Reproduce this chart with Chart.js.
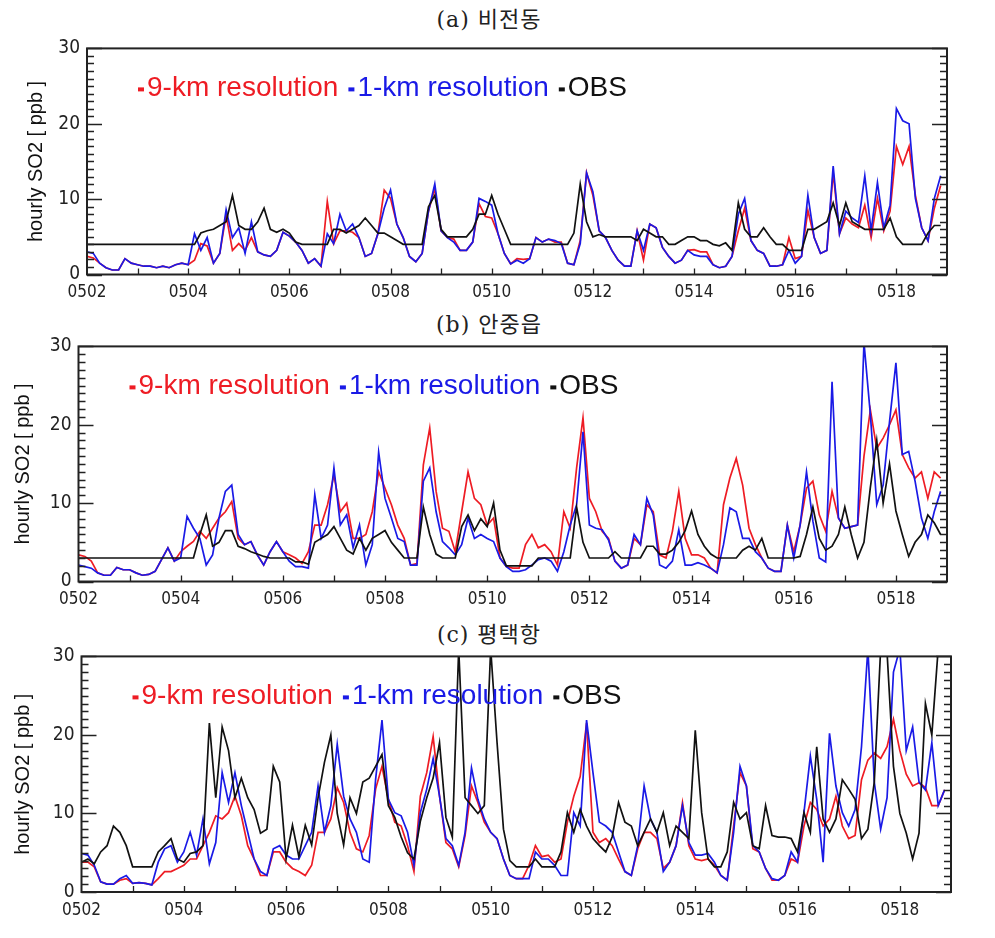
<!DOCTYPE html>
<html>
<head>
<meta charset="utf-8">
<script src="https://cdn.jsdelivr.net/npm/chart.js@4.4.1/dist/chart.umd.min.js"></script>
<style>
  body { margin: 0; background: #fff; }
  #page { position: relative; width: 995px; height: 938px; overflow: hidden; background: #fff; }
  .ttl { position: absolute; left: 0; width: 978px; text-align: center; line-height: 26px;
         font-family: "DejaVu Serif", "Noto Sans CJK KR", serif; font-size: 22px; letter-spacing: 1px; color: #222; }
  canvas { position: absolute; left: 0; }
</style>
</head>
<body>
<div id="page">
  <div class="ttl" style="top:7px">(a) 비전동</div>
  <div class="ttl" style="top:312px">(b) 안중읍</div>
  <div class="ttl" style="top:622px">(c) 평택항</div>
  <canvas id="chartA" width="995" height="290" style="top:30px"></canvas>
  <canvas id="chartB" width="995" height="290" style="top:328px"></canvas>
  <canvas id="chartC" width="995" height="290" style="top:638px"></canvas>
</div>
<script>
// time axis: days since 05-02 00h, one value every 3 hours
const STEP_HOURS = 3;
const DAYS = Array.from({ length: 136 }, (_, i) => i * STEP_HOURS / 24);
const DAY_TICKS = [0, 2, 4, 6, 8, 10, 12, 14, 16];
const TICK_LABELS = ['0502', '0504', '0506', '0508', '0510', '0512', '0514', '0516', '0518'];
const SERIES_NAMES = ['9-km resolution', '1-km resolution', 'OBS'];

// (a) 비전동
const km9A = [
  2.4, 2.2, 1.5, 0.9, 0.6, 0.6, 2.1, 1.5, 1.3, 1.1, 1.1, 0.9, 1.1, 0.9, 1.3, 1.5, 1.3,
  1.9, 4.1, 3.8, 1.5, 2.8, 7.9, 3.2, 4.1, 3.2, 4.9, 3.0, 2.6, 2.4, 3.2, 5.6, 5.1, 4.3,
  3.2, 1.5, 2.1, 1.1, 9.7, 4.1, 5.8, 5.8, 5.6, 4.9, 2.4, 2.8, 5.4, 11.2, 10.1, 6.7, 4.9,
  2.4, 1.7, 2.8, 8.4, 11.4, 5.8, 4.9, 4.7, 3.2, 3.2, 4.3, 9.4, 7.7, 7.5, 5.4, 2.8, 1.4,
  2.1, 2.0, 2.1, 4.9, 4.3, 4.7, 4.3, 4.3, 1.5, 1.3, 4.5, 13.5, 10.5, 5.8, 4.9, 3.2, 1.9,
  1.1, 1.1, 5.8, 1.9, 6.7, 6.2, 3.6, 2.4, 1.5, 1.9, 3.2, 3.3, 3.0, 3.0, 1.3, 0.9, 1.1,
  2.4, 5.8, 8.8, 4.5, 3.2, 2.8, 1.1, 1.1, 1.3, 4.9, 2.1, 2.4, 8.5, 4.9, 2.8, 3.2, 13.5,
  5.4, 7.5, 6.7, 6.2, 9.2, 4.9, 10.1, 5.8, 8.4, 17.0, 14.6, 17.0, 10.5, 6.2, 4.5, 8.8, 11.8
];
const km1A = [
  3.0, 2.8, 1.5, 0.9, 0.6, 0.6, 2.1, 1.5, 1.3, 1.1, 1.1, 0.9, 1.1, 0.9, 1.3, 1.5, 1.3,
  5.4, 3.2, 4.9, 1.5, 2.8, 8.6, 4.9, 6.2, 2.8, 7.0, 3.0, 2.6, 2.4, 3.2, 5.6, 5.1, 4.3,
  3.2, 1.5, 2.1, 1.1, 5.4, 4.1, 8.0, 5.8, 6.7, 4.9, 2.4, 2.8, 5.4, 8.8, 11.2, 6.7, 4.9,
  2.4, 1.7, 2.8, 8.4, 12.0, 5.8, 4.9, 4.3, 3.2, 3.2, 4.3, 10.1, 9.7, 9.2, 5.4, 2.8, 1.4,
  1.9, 1.5, 2.1, 4.9, 4.3, 4.7, 4.5, 4.1, 1.5, 1.3, 4.1, 13.5, 11.0, 5.8, 4.9, 3.2, 1.9,
  1.1, 1.1, 5.8, 3.2, 6.7, 6.2, 3.6, 2.4, 1.5, 1.9, 3.2, 2.6, 2.4, 2.4, 1.3, 0.9, 1.1,
  2.4, 8.0, 10.1, 4.5, 3.2, 2.8, 1.1, 1.1, 1.3, 3.2, 1.5, 2.4, 10.5, 4.9, 2.8, 3.2, 14.4,
  5.4, 8.4, 7.5, 6.9, 13.1, 5.8, 12.2, 6.2, 9.2, 22.0, 20.4, 20.0, 10.1, 6.2, 4.5, 10.1, 13.1
];
const obsA = [
  4, 4, 4, 4, 4, 4, 4, 4, 4, 4, 4, 4, 4, 4, 4, 4, 4,
  4, 5.5, 5.8, 6, 6.5, 7, 10.5, 6.5, 6, 6, 7, 8.8, 6, 5.6, 6, 5.5, 4.3,
  4, 4, 4, 4, 4, 6, 6, 5.5, 6, 6.5, 7.5, 6.5, 5.5, 5.5, 5, 4.5, 4,
  4, 4, 4, 9, 10.5, 6, 5, 5, 5, 5, 6, 8, 8, 10.5, 8, 6, 4,
  4, 4, 4, 4, 4, 4, 4, 4, 4, 5.5, 12, 7, 5, 5.3, 5, 5, 5,
  5, 5, 4.5, 6, 5.5, 5, 5, 4, 4, 4.5, 5, 5, 4.5, 4.5, 4, 3.8, 4.2,
  3.2, 9.5, 6, 5, 5, 6.2, 5, 4, 4, 3.2, 3.2, 3.2, 6, 6, 6.5, 7, 9.5,
  6.5, 9.5, 7, 6.5, 6, 6, 6, 6, 7.5, 5, 4, 4, 4, 4, 5.5, 6.5, 6.5
];

// (b) 안중읍
const km9B = [
  3.4, 3.2, 2.6, 1.1, 0.8, 0.8, 1.8, 1.5, 1.5, 1.1, 0.8, 0.9, 1.3, 2.8, 4.3, 2.6, 3.8,
  4.5, 5.1, 6.4, 5.5, 6.8, 8.1, 8.9, 10.2, 5.5, 4.7, 5.1, 3.4, 2.1, 3.8, 5.1, 3.8, 3.4,
  3.0, 2.3, 3.8, 7.2, 7.2, 9.8, 13.6, 8.9, 10.0, 5.5, 5.5, 6.0, 8.9, 14.0, 11.9, 9.8, 7.2,
  5.5, 2.1, 2.3, 14.9, 19.6, 11.5, 6.8, 6.4, 3.8, 8.9, 14.0, 10.6, 9.8, 7.2, 8.1, 3.0, 1.9,
  1.7, 1.7, 4.7, 6.0, 4.3, 4.7, 3.8, 2.1, 8.9, 6.8, 14.5, 20.9, 10.6, 8.9, 6.4, 5.5, 2.6,
  1.7, 2.1, 5.5, 4.7, 9.8, 8.9, 3.4, 3.0, 6.4, 11.5, 5.5, 3.4, 3.4, 3.0, 1.7, 1.1, 9.8,
  13.2, 15.7, 12.3, 6.8, 4.7, 3.0, 1.7, 1.3, 1.3, 7.2, 3.8, 7.2, 11.9, 12.8, 8.5, 6.4, 11.5,
  8.1, 6.8, 7.0, 7.2, 16.0, 21.9, 17.0, 18.3, 20.0, 21.9, 16.2, 14.5, 13.2, 14.0, 10.6, 14.0, 13.2
];
const km1B = [
  2.1, 1.9, 1.7, 1.1, 0.8, 0.8, 1.8, 1.5, 1.5, 1.1, 0.8, 0.9, 1.3, 2.8, 4.3, 2.6, 3.0,
  8.3, 6.8, 5.5, 2.1, 3.4, 8.1, 11.5, 12.3, 6.0, 4.7, 5.1, 3.4, 2.1, 3.8, 5.1, 3.8, 2.6,
  1.9, 1.9, 1.7, 11.1, 5.5, 7.2, 14.5, 7.2, 8.5, 4.3, 7.2, 2.1, 4.7, 16.5, 10.6, 8.1, 5.5,
  5.1, 2.1, 2.1, 12.8, 14.5, 8.9, 5.1, 4.3, 3.4, 4.7, 8.1, 5.5, 6.0, 5.5, 5.1, 3.0, 1.9,
  1.3, 1.3, 1.5, 2.1, 2.8, 3.0, 2.6, 1.3, 3.8, 7.2, 9.8, 19.1, 7.2, 6.8, 6.6, 5.3, 2.6,
  1.7, 2.1, 6.0, 4.7, 10.6, 8.5, 2.1, 1.7, 2.6, 6.6, 2.1, 2.1, 2.4, 2.1, 1.7, 1.1, 4.7,
  9.4, 8.9, 5.5, 5.5, 3.8, 3.0, 1.7, 1.3, 1.3, 7.2, 3.0, 7.2, 14.0, 7.7, 3.0, 2.5, 25.5,
  8.1, 6.8, 7.0, 7.2, 30.5, 21.3, 9.8, 12.3, 20.4, 27.9, 16.2, 16.6, 12.8, 8.1, 5.5, 8.9, 11.5
];
const obsB = [
  3, 3, 3, 3, 3, 3, 3, 3, 3, 3, 3, 3, 3, 3, 3, 3, 3,
  3, 3, 6, 8.5, 4.5, 5, 6.5, 6.5, 4.5, 4.2, 3.8, 3.5, 3.2, 3, 3, 3, 3,
  2.5, 2.5, 2.2, 5, 5.5, 6, 7, 5.5, 4, 3.5, 5.5, 4, 5.5, 6, 6.5, 5, 4,
  3, 3, 3, 9.5, 6, 3.5, 3, 3, 3, 7, 8.5, 6.5, 8, 7, 10, 4, 2,
  2, 2, 2, 2, 3, 3, 3, 3, 3, 3, 9.5, 5, 3, 3, 3, 3, 3.8,
  3, 3, 3, 3, 4.5, 4.5, 3.5, 3.5, 4, 5, 6.5, 9, 6, 4.5, 3.5, 3, 3,
  3, 3, 4, 4.5, 4, 5.5, 3, 3, 3, 3, 3, 3.2, 6, 9.5, 5.5, 4, 4.5,
  6, 9.5, 6, 3, 5, 12, 18, 10, 15, 9, 6, 3.2, 5, 6, 8.5, 7.5, 6
];

// (c) 평택항
const km9C = [
  3.8, 3.8, 3.2, 1.3, 1.0, 1.0, 1.5, 1.7, 1.1, 1.2, 1.1, 0.9, 1.7, 2.6, 2.6, 3.0, 3.4,
  4.2, 4.2, 5.9, 7.6, 9.7, 9.3, 10.1, 12.2, 9.7, 5.9, 4.2, 2.1, 2.1, 5.1, 5.1, 3.8, 3.0,
  2.6, 2.1, 3.4, 7.6, 7.6, 9.3, 13.3, 11.4, 7.6, 5.5, 5.1, 7.2, 13.1, 16.0, 11.8, 8.9, 8.4,
  5.9, 2.6, 12.2, 15.2, 19.8, 12.2, 6.3, 5.5, 3.2, 7.2, 13.5, 11.4, 8.9, 7.6, 6.8, 4.2, 2.1,
  1.7, 1.7, 3.4, 5.9, 4.5, 4.7, 3.8, 4.2, 8.9, 12.2, 14.7, 21.5, 7.6, 6.3, 6.8, 5.9, 4.2,
  2.6, 2.1, 5.5, 7.6, 7.6, 6.8, 3.0, 3.8, 5.9, 11.4, 5.9, 4.2, 4.0, 4.2, 3.4, 2.1, 1.5,
  8.4, 15.2, 13.5, 5.5, 5.1, 3.0, 1.5, 1.5, 2.1, 4.2, 3.8, 8.4, 11.4, 10.5, 8.4, 9.3, 12.2,
  8.4, 6.8, 7.2, 14.3, 16.8, 17.7, 17.0, 18.5, 22.0, 18.0, 15.0, 13.5, 13.9, 13.3, 11.0, 11.0, 13.0
];
const km1C = [
  4.9, 4.7, 3.4, 1.3, 1.0, 1.0, 1.7, 2.1, 1.1, 1.2, 1.1, 0.9, 3.8, 5.5, 5.9, 3.8, 5.1,
  7.6, 4.7, 9.3, 3.6, 6.3, 15.2, 11.4, 15.2, 11.0, 7.6, 4.2, 2.6, 2.1, 5.5, 5.9, 4.7, 4.2,
  4.2, 5.9, 7.6, 13.5, 7.6, 11.0, 18.8, 12.2, 9.3, 7.6, 4.2, 3.8, 14.3, 21.9, 11.8, 10.1, 9.7,
  7.6, 3.4, 10.1, 13.1, 17.0, 12.2, 6.8, 5.9, 3.4, 7.6, 15.8, 11.8, 9.3, 7.6, 6.8, 4.2, 2.1,
  1.7, 1.7, 1.7, 5.1, 4.2, 4.2, 3.4, 2.1, 2.1, 10.1, 8.4, 21.9, 15.2, 8.9, 8.4, 7.6, 5.1,
  2.6, 2.1, 5.9, 13.5, 9.3, 7.6, 2.6, 3.8, 5.9, 11.0, 6.3, 4.7, 4.7, 4.9, 3.8, 2.1, 1.5,
  7.6, 16.0, 13.5, 5.9, 5.1, 3.0, 1.7, 1.5, 2.1, 5.1, 3.8, 10.1, 17.3, 11.8, 3.8, 20.2, 13.5,
  10.1, 8.4, 10.5, 18.5, 31.0, 14.0, 8.0, 12.0, 28.0, 31.0, 18.0, 21.0, 14.0, 13.0, 19.0, 11.0, 13.0
];
const obsC = [
  3.8, 4.2, 3.6, 5.1, 5.9, 8.4, 7.6, 5.9, 3.2, 3.2, 3.2, 3.2, 5.1, 5.9, 6.8, 4.2, 3.8,
  4.9, 5.1, 5.9, 21.5, 12, 21, 18, 12, 14.5, 12, 10.5, 7.5, 8, 16, 14, 4.2, 8.5,
  4.5, 8.5, 6, 12, 16.5, 20, 10, 6, 12, 10, 14, 14.5, 16, 17.5, 11, 9.5, 7,
  5, 4.2, 9, 12, 14.5, 19, 9.5, 7, 31, 12, 11, 10, 11, 31, 19, 8, 4,
  3.2, 3.2, 3.2, 4.2, 3.2, 3.2, 3.2, 5.1, 10.1, 7.6, 10.5, 8.4, 6.8, 5.9, 5.1, 7, 11.4,
  8.9, 8.4, 5.9, 7.6, 9.3, 7.6, 10.1, 5.9, 8.4, 7.6, 6.8, 20.6, 10.1, 4.2, 3.2, 3.2, 5.1,
  11.4, 9.3, 10.1, 5.9, 5.5, 11.0, 7.2, 7.0, 7.0, 6.8, 5.1, 10.1, 7.6, 18.5, 9.3, 7.6, 9.3,
  14.3, 13.1, 11.8, 6.8, 8, 14, 31, 30.5, 16, 10, 7.5, 4.2, 7.5, 24, 20, 31, 31
];

const RED = '#ee1c24';
const BLUE = '#1a1ae6';
const BLACK = '#111111';
const NARROW = '"Liberation Sans Narrow", "DejaVu Sans Condensed", "Liberation Sans", sans-serif';
const SANS = '"Liberation Sans", Arial, sans-serif';

// box + inward ticks, IDL style
const framePlugin = {
  id: 'frame',
  afterDatasetsDraw(chart) {
    const { ctx, chartArea: a, scales: { x, y } } = chart;
    ctx.save();
    ctx.strokeStyle = '#222';
    ctx.lineWidth = 1.3;
    ctx.beginPath();
    for (let v = 0; v <= 30; v++) {
      const py = Math.round(y.getPixelForValue(v)) + 0.5;
      const len = v % 10 === 0 ? 15 : 7;
      ctx.moveTo(a.left, py); ctx.lineTo(a.left + len, py);
      ctx.moveTo(a.right, py); ctx.lineTo(a.right - len, py);
    }
    for (let d = 1; d < 17; d++) {
      const px = Math.round(x.getPixelForValue(d)) + 0.5;
      ctx.moveTo(px, a.bottom); ctx.lineTo(px, a.bottom - 6);
    }
    ctx.stroke();
    ctx.lineWidth = 2;
    ctx.strokeRect(a.left, a.top, a.right - a.left, a.bottom - a.top);
    ctx.restore();
  }
};

// legend written inside the plot, each entry in its own colour
const inlineLegend = {
  id: 'inlineLegend',
  afterDatasetsDraw(chart) {
    const { ctx, chartArea: a } = chart;
    ctx.save();
    ctx.font = '28px ' + SANS;
    ctx.textBaseline = 'middle';
    let px = a.left + 51;
    const py = a.top + 40;
    chart.data.datasets.forEach(ds => {
      ctx.fillStyle = ds.borderColor;
      ctx.fillRect(px, py - 1, 6, 4);
      ctx.fillText(ds.label, px + 9, py);
      px += 9 + ctx.measureText(ds.label).width + 10;
    });
    ctx.restore();
  }
};

function makePanel(id, canvasTop, area, yTitleX, km9, km1, obs) {
  const W = 995, H = 290;
  const top = area.top - canvasTop;
  const bottom = area.bottom - canvasTop;
  const line = (label, data, color, order) => ({
    label, data, borderColor: color, backgroundColor: color,
    borderWidth: 1.7, pointRadius: 0, tension: 0, fill: false, order
  });
  new Chart(document.getElementById(id), {
    type: 'line',
    data: {
      labels: DAYS,
      datasets: [
        line(SERIES_NAMES[0], km9, RED, 3),
        line(SERIES_NAMES[1], km1, BLUE, 2),
        line(SERIES_NAMES[2], obs, BLACK, 1)
      ]
    },
    options: {
      responsive: false,
      animation: false,
      layout: { autoPadding: false, padding: { left: 0, right: W - area.right, top: top, bottom: 0 } },
      plugins: { legend: { display: false }, tooltip: { enabled: false } },
      scales: {
        x: {
          type: 'linear', min: 0, max: 17,
          grid: { display: false, drawTicks: false },
          border: { display: false },
          afterBuildTicks: s => { s.ticks = DAY_TICKS.map(v => ({ value: v })); },
          afterFit: s => { s.height = H - bottom; },
          ticks: {
            autoSkip: false, maxRotation: 0, padding: 8, color: '#222',
            font: { family: NARROW, size: 17 },
            callback: (v, i) => TICK_LABELS[i]
          }
        },
        y: {
          min: 0, max: 30,
          grid: { display: false, drawTicks: false },
          border: { display: false },
          afterFit: s => { s.width = area.left; },
          ticks: { stepSize: 10, padding: 7, color: '#222', font: { family: NARROW, size: 19 } },
          title: {
            display: true, text: 'hourly SO2 [ ppb ]', color: '#111',
            font: { family: SANS, size: 20 },
            padding: { top: yTitleX - 12, bottom: 0 }
          }
        }
      }
    },
    plugins: [framePlugin, inlineLegend]
  });
}

makePanel('chartA', 30, { left: 87, right: 947, top: 41.5, bottom: 274.5 }, 36, km9A, km1A, obsA);
makePanel('chartB', 328, { left: 78.5, right: 947, top: 345.5, bottom: 581.5 }, 23, km9B, km1B, obsB);
makePanel('chartC', 638, { left: 81.5, right: 951, top: 655, bottom: 892 }, 23, km9C, km1C, obsC);
</script>
</body>
</html>
